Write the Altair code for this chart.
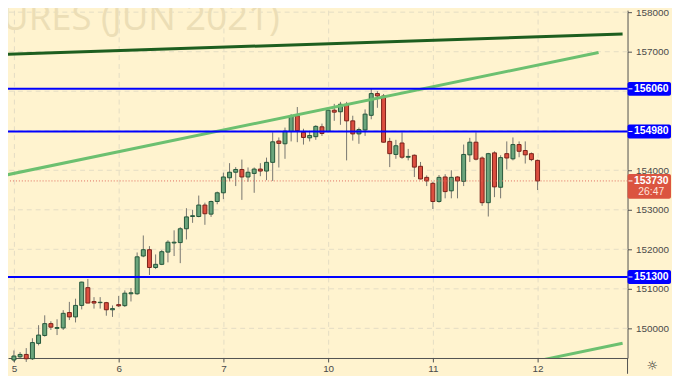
import altair as alt
import pandas as pd

# ---- data (hourly candles) ----
opens = [149200, 149280, 149340, 149230, 149620, 149820, 150120, 150000, 150010, 150400,
         150290, 150580, 151030, 150680, 150650, 150650, 150470, 150600, 150575, 150875,
         150875, 151830, 151990, 151540, 151620, 151930, 152160, 152170, 152520, 152830,
         152830, 153120, 152890, 153210, 153430, 153810, 153950, 154020, 153830, 153920,
         154030, 153980, 154200, 154740, 154670, 154980, 155380, 154960, 154820, 154850,
         155100, 154980, 155520, 155480, 155670, 155250, 154920, 155020, 155390, 155940,
         155880, 154730, 154400, 154690, 154330, 154380, 154100, 153820, 153670, 153210,
         153830, 153480, 153830, 153720, 154390, 154710, 154310, 153180, 154440, 153570,
         154420, 154290, 154650, 154500, 154420, 154250]
highs = [149440, 149400, 149500, 149750, 150080, 150330, 150180, 150230, 150460, 150670,
         150750, 151180, 151250, 150790, 150790, 150670, 150580, 150820, 150960, 151020,
         151920, 152350, 152080, 151870, 151980, 152230, 152480, 152560, 153040, 153000,
         153360, 153180, 153230, 153460, 153940, 154180, 154080, 154270, 154070, 154070,
         154180, 154320, 154960, 154830, 155080, 155420, 155600, 155050, 155000, 155140,
         155180, 155540, 155680, 155730, 155730, 155380, 155080, 155540, 156070, 156000,
         155930, 154820, 154770, 154960, 154540, 154400, 154210, 153870, 153710, 153880,
         153900, 154000, 153850, 154650, 154820, 154960, 154350, 154440, 154480, 154380,
         154730, 154830, 154730, 154730, 154450, 154270]
lows = [149150, 149250, 149150, 149200, 149570, 149790, 149960, 149830, 149960, 150210,
        150150, 150480, 150640, 150500, 150500, 150320, 150290, 150540, 150540, 150680,
        150850, 151800, 151350, 151500, 151600, 151670, 151830, 151650, 152250, 152670,
        152810, 152620, 152820, 153140, 153270, 153720, 153600, 153250, 153710, 153430,
        153850, 153750, 153730, 154070, 154290, 154730, 154710, 154650, 154730, 154770,
        154870, 154960, 155250, 155150, 154250, 154750, 154670, 154870, 155290, 155580,
        154700, 154080, 154290, 154290, 154250, 153830, 153770, 153600, 153020, 153180,
        153290, 153290, 153290, 153600, 154210, 154250, 153100, 152830, 153320, 153290,
        154020, 154250, 154330, 154170, 154230, 153500]
closes = [149300, 149340, 149230, 149640, 149830, 150120, 150030, 150020, 150380, 150290,
          150580, 151170, 150640, 150640, 150660, 150470, 150500, 150570, 150890, 150900,
          151810, 151990, 151540, 151620, 151940, 152180, 152180, 152520, 152820, 152850,
          153120, 152900, 153210, 153430, 153830, 153950, 154020, 153830, 153950, 154030,
          153980, 154200, 154720, 154680, 154990, 155380, 155000, 154830, 154880, 155110,
          154930, 155520, 155470, 155670, 155250, 154920, 155030, 155420, 155940, 155880,
          154710, 154420, 154620, 154330, 154350, 154080, 153780, 153730, 153210, 153820,
          153460, 153820, 153730, 154400, 154710, 154280, 153180, 154420, 153580, 154320,
          154310, 154650, 154480, 154390, 154270, 153730]

day_ticks = [0, 17, 34, 51, 68, 85]
day_labels = ["5", "6", "7", "10", "11", "12"]
grid_prices = [150000, 151000, 152000, 153000, 154000, 155000, 156000, 157000, 158000]
# labels 155000 and 156000 sit under the level boxes in the reference
label_prices = [150000, 151000, 152000, 153000, 154000, 157000, 158000]

level_prices = [156060, 154980, 151300]
last_price = 153730
countdown = "26:47"

trend_dark_idx = [-1.5, 98.8]
trend_dark_px = [156930, 157450]
trend_up_idx = [-1.42, 94.9]
trend_up_px = [153875, 156980]
trend_low_idx = [80, 98.8]
trend_low_px = [149014, 149625]

watermark = "URES (JUN 2021)"

# ---- tables ----
candles = pd.DataFrame({"idx": list(range(len(opens))), "open": opens, "high": highs,
                        "low": lows, "close": closes})
levels = pd.DataFrame({"price": level_prices, "label": [str(p) for p in level_prices]})
last_df = pd.DataFrame({"price": [last_price], "label": [str(last_price)], "cd": [countdown]})
trends = pd.DataFrame({
    "idx": trend_dark_idx + trend_up_idx + trend_low_idx,
    "price": trend_dark_px + trend_up_px + trend_low_px,
    "line": ["dark"] * 2 + ["up"] * 2 + ["low"] * 2,
})
grid_df = pd.DataFrame({"price": grid_prices})

W, H = 627, 352
BG = "#fff3cf"
GRID = "#e4dcc4"
AX = "#4f4f4f"
LBL = "#4a4a4a"
FONT = "Liberation Sans"

xs = alt.Scale(domain=[-0.16, 98.8], nice=False, zero=False)
ys = alt.Scale(domain=[149250, 158050], nice=False, zero=False)

label_map = "{" + ",".join(f"'{t}':'{l}'" for t, l in zip(day_ticks, day_labels)) + "}"

x_axis = alt.Axis(values=day_ticks, labelExpr=f"{label_map}[''+datum.value]", grid=True,
                  gridDash=[5, 4], gridColor=GRID, domainColor=AX, tickColor=AX, tickSize=4,
                  labelPadding=2, labelFontSize=10, labelColor=LBL, labelFont=FONT, title=None)
y_axis = alt.Axis(orient="right", values=label_prices, format="d", grid=False,
                  domainColor=AX, tickColor=AX, tickSize=4, labelPadding=4,
                  labelFontSize=10, labelColor=LBL, labelFont=FONT, title=None)

base = alt.Chart(candles)

hgrid = alt.Chart(grid_df).mark_rule(color=GRID, strokeWidth=1, strokeDash=[5, 4]).encode(
    y=alt.Y("price:Q", scale=ys)
)

wm = alt.Chart(pd.DataFrame({"t": [watermark]})).mark_text(
    align="right", baseline="alphabetic", fontSize=37, font="Open Sans", color="#ecdeb6"
).encode(x=alt.value(275), y=alt.value(20), text="t:N")

wicks = base.mark_rule(color="#76756f", strokeWidth=1).encode(
    x=alt.X("idx:Q", scale=xs, axis=x_axis),
    y=alt.Y("low:Q", scale=ys, axis=y_axis),
    y2="high:Q",
)

up = "datum.close >= datum.open"
bodies = base.mark_bar(size=4, strokeWidth=1).encode(
    x=alt.X("idx:Q", scale=xs),
    y=alt.Y("open:Q", scale=ys),
    y2="close:Q",
    fill=alt.condition(up, alt.value("#6aa57c"), alt.value("#dc4e3f")),
    stroke=alt.condition(up, alt.value("#24563a"), alt.value("#7a2118")),
)

trend_lines = alt.Chart(trends).mark_line(clip=True, strokeWidth=3).encode(
    x=alt.X("idx:Q", scale=xs),
    y=alt.Y("price:Q", scale=ys),
    detail="line:N",
    color=alt.Color("line:N", scale=alt.Scale(domain=["dark", "up", "low"],
                                              range=["#1d5e1f", "#6cc070", "#6cc070"]),
                    legend=None),
)

blue_lines = alt.Chart(levels).mark_rule(color="#0000ff", strokeWidth=2).encode(
    y=alt.Y("price:Q", scale=ys)
)

last_line = alt.Chart(last_df).mark_rule(color="#e06a5c", strokeWidth=1, strokeDash=[1, 2]).encode(
    y=alt.Y("price:Q", scale=ys)
)

blue_boxes = alt.Chart(levels).mark_rect(color="#0000ff", yOffset=-7, y2Offset=7,
                                         cornerRadius=2, clip=False).encode(
    x=alt.value(627), x2=alt.value(671),
    y=alt.Y("price:Q", scale=ys), y2="price:Q",
)
blue_ticks = alt.Chart(levels).mark_rule(color="#ffffff", strokeWidth=1, clip=False).encode(
    x=alt.value(628), x2=alt.value(632), y=alt.Y("price:Q", scale=ys)
)
blue_text = alt.Chart(levels).mark_text(color="white", fontSize=10.5, fontWeight="bold",
                                        font=FONT, align="center", baseline="middle",
                                        clip=False).encode(
    x=alt.value(651), y=alt.Y("price:Q", scale=ys), text="label:N"
)

red_box = alt.Chart(last_df).mark_rect(color="#db5440", yOffset=-7, y2Offset=18,
                                       cornerRadius=2, clip=False).encode(
    x=alt.value(627), x2=alt.value(671),
    y=alt.Y("price:Q", scale=ys), y2="price:Q",
)
red_tick = alt.Chart(last_df).mark_rule(color="#ffffff", strokeWidth=1, clip=False).encode(
    x=alt.value(628), x2=alt.value(632), y=alt.Y("price:Q", scale=ys)
)
red_text = alt.Chart(last_df).mark_text(color="white", fontSize=10.5, fontWeight="bold",
                                        font=FONT, align="center", baseline="middle",
                                        clip=False).encode(
    x=alt.value(651), y=alt.Y("price:Q", scale=ys), text="label:N"
)
red_cd = alt.Chart(last_df).mark_text(color="#ffe3dc", fontSize=10.5, font=FONT,
                                      align="center", baseline="middle", dy=11,
                                      clip=False).encode(
    x=alt.value(651), y=alt.Y("price:Q", scale=ys), text="cd:N"
)

axis_ext = alt.Chart(last_df).mark_rule(color=AX, strokeWidth=1, clip=False).encode(
    x=alt.value(W), y=alt.value(H), y2=alt.value(H + 16)
)
gear = alt.Chart(pd.DataFrame({"g": ["\u263c"]})).mark_text(
    fontSize=13, color="#333333", font="DejaVu Sans", align="center", baseline="middle",
    clip=False
).encode(x=alt.value(652), y=alt.value(360), text="g:N")

chart = alt.layer(
    hgrid, wm, wicks, bodies, trend_lines, blue_lines, last_line,
    blue_boxes, blue_ticks, blue_text, red_box, red_tick, red_text, red_cd, axis_ext, gear
).properties(
    width=W, height=H,
    autosize=alt.AutoSizeParams(type="none"),
    padding={"left": 0, "top": 0, "right": 45, "bottom": 16},
).configure(background=BG).configure_view(stroke=None)

chart.save("out.html", embed_options={"renderer": "svg", "actions": False})
